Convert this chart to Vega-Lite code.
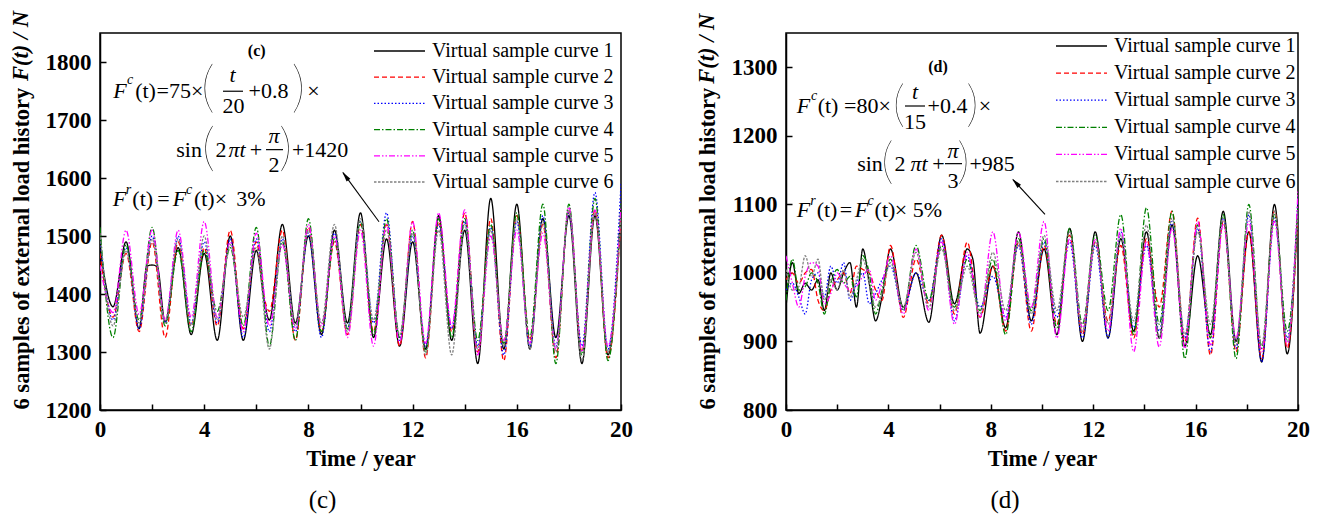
{
"$schema":"https://vega.github.io/schema/vega-lite/v6.json",
"padding":{"left":9,"top":10,"right":5,"bottom":0},
"spacing":61,
"config":{
"view":{"stroke":"black","strokeWidth":1.5},
"font":"Liberation Serif",
"axis":{"grid":false,"tickSize":-6,"tickWidth":1.5,"tickColor":"black","domainColor":"black","domainWidth":1.5,"labelFont":"Liberation Serif","labelFontSize":23,"labelFontWeight":"bold","labelColor":"black","labelFlush":false,"labelOverlap":false,"labelBound":false,"titleFont":"Liberation Serif","titleFontSize":22.5,"titleFontWeight":"bold","titleColor":"black"},
"axisX":{"labelPadding":14,"titlePadding":6},
"axisY":{"labelPadding":15},
"legend":{"symbolType":"stroke","symbolSize":2600,"symbolStrokeWidth":1.3,"labelFont":"Liberation Serif","labelFontSize":20,"labelColor":"black","labelOffset":6,"padding":0,"labelLimit":400},
"text":{"font":"Liberation Serif","fontSize":22,"align":"center","baseline":"middle","color":"black"},
"rule":{"color":"black"}
},
"datasets":{
"c":[
{"t":0,"1":1480,"2":1470,"3":1495,"4":1515,"5":1450,"6":1505},
{"t":0.5,"1":1378,"2":1360,"3":1355,"4":1325,"5":1368,"6":1345},
{"t":1,"1":1490,"2":1470,"3":1480,"4":1485,"5":1510,"6":1475},
{"t":1.5,"1":1340,"2":1335,"3":1340,"4":1355,"5":1365,"6":1350},
{"t":1.8,"1":1448},
{"t":2,"1":1450,"2":1490,"3":1500,"4":1515,"5":1510,"6":1495},
{"t":2.2,"1":1447},
{"t":2.5,"1":1352,"2":1325,"3":1350,"4":1345,"5":1355,"6":1350},
{"t":3,"1":1480,"2":1490,"3":1500,"4":1475,"5":1510,"6":1495},
{"t":3.5,"1":1330,"2":1345,"3":1350,"4":1335,"5":1360,"6":1345},
{"t":4,"1":1470,"2":1480,"3":1490,"4":1475,"5":1525,"6":1500},
{"t":4.5,"1":1320,"2":1345,"3":1350,"4":1370,"5":1360,"6":1355},
{"t":5,"1":1500,"2":1510,"3":1495,"4":1480,"5":1490,"6":1485},
{"t":5.5,"1":1320,"2":1340,"3":1325,"4":1345,"5":1335,"6":1360},
{"t":6,"1":1475,"2":1490,"3":1495,"4":1515,"5":1505,"6":1480},
{"t":6.3,"1":1390,"2":1395},
{"t":6.5,"1":1355,"2":1370,"3":1335,"4":1310,"5":1345,"6":1305},
{"t":7,"1":1520,"2":1510,"3":1495,"4":1490,"5":1485,"6":1500},
{"t":7.5,"1":1350,"2":1320,"3":1335,"4":1320,"5":1340,"6":1345},
{"t":8,"1":1500,"2":1515,"3":1505,"4":1530,"5":1520,"6":1510},
{"t":8.5,"1":1330,"2":1335,"3":1325,"4":1335,"5":1345,"6":1350},
{"t":9,"1":1510,"2":1490,"3":1505,"4":1495,"5":1500,"6":1520},
{"t":9.5,"1":1350,"2":1330,"3":1340,"4":1340,"5":1325,"6":1335},
{"t":10,"1":1540,"2":1520,"3":1525,"4":1525,"5":1510,"6":1530},
{"t":10.5,"1":1325,"2":1335,"3":1350,"4":1330,"5":1310,"6":1355},
{"t":11,"1":1495,"2":1520,"3":1540,"4":1530,"5":1520,"6":1510},
{"t":11.5,"1":1310,"2":1310,"3":1320,"4":1325,"5":1315,"6":1330},
{"t":12,"1":1490,"2":1525,"3":1500,"4":1510,"5":1525,"6":1505},
{"t":12.5,"1":1305,"2":1290,"3":1310,"4":1300,"5":1315,"6":1295},
{"t":13,"1":1535,"2":1525,"3":1520,"4":1530,"5":1540,"6":1510},
{"t":13.5,"1":1320,"2":1335,"3":1340,"4":1325,"5":1345,"6":1295},
{"t":14,"1":1510,"2":1540,"3":1525,"4":1530,"5":1545,"6":1520},
{"t":14.5,"1":1280,"2":1300,"3":1310,"4":1320,"5":1295,"6":1305},
{"t":15,"1":1565,"2":1530,"3":1515,"4":1520,"5":1500,"6":1510},
{"t":15.5,"1":1305,"2":1285,"3":1295,"4":1315,"5":1320,"6":1310},
{"t":16,"1":1555,"2":1535,"3":1525,"4":1540,"5":1510,"6":1530},
{"t":16.5,"1":1305,"2":1320,"3":1310,"4":1325,"5":1315,"6":1305},
{"t":17,"1":1530,"2":1520,"3":1535,"4":1555,"5":1505,"6":1525},
{"t":17.5,"1":1325,"2":1290,"3":1310,"4":1280,"5":1305,"6":1300},
{"t":18,"1":1535,"2":1545,"3":1540,"4":1555,"5":1550,"6":1545},
{"t":18.5,"1":1280,"2":1300,"3":1310,"4":1295,"5":1300,"6":1285},
{"t":19,"1":1535,"2":1545,"3":1575,"4":1565,"5":1545,"6":1540},
{"t":19.5,"1":1295,"2":1290,"3":1305,"4":1285,"5":1310,"6":1300},
{"t":20,"1":1545,"2":1530,"3":1590,"4":1555,"5":1550,"6":1535}
],
"d":[
{"t":0,"1":950,"2":990,"3":975,"4":960,"5":1025,"6":1005},
{"t":0.25,"1":1015,"2":1000,"3":985,"4":1020,"5":985,"6":975},
{"t":0.5,"1":970,"2":985,"3":965,"4":975,"5":950,"6":980},
{"t":0.75,"1":985,"2":1000,"3":940,"4":980,"5":995,"6":1025},
{"t":1,"1":975,"2":1005,"3":990,"4":1000,"5":1015,"6":995},
{"t":1.25,"1":990,"2":960,"3":1000,"4":985,"5":1010,"6":1020},
{"t":1.5,"1":945,"2":945,"3":965,"4":940,"5":955,"6":960},
{"t":1.75,"1":1000,"2":975,"3":1010,"4":985,"5":970,"6":990},
{"t":2,"1":975,"2":990,"3":985,"4":1005,"5":1000,"6":975},
{"t":2.25,"1":1000,"2":1000,"3":1015,"4":985,"5":985,"6":1005},
{"t":2.5,"1":1015,"2":970,"3":960,"4":995,"5":975,"6":965},
{"t":2.75,"1":950,"2":1010,"3":985,"4":965,"5":980,"6":990},
{"t":3,"1":1035,"2":1005,"3":1000,"4":1025,"5":995,"6":1020},
{"t":3.25,"1":985,"2":1000,"3":955,"4":1000,"5":1005,"6":985},
{"t":3.5,"1":930,"2":975,"3":970,"4":940,"5":960,"6":950},
{"t":3.75,"1":965,"2":960,"3":990,"4":975,"5":985,"6":970},
{"t":4.08,"1":1035,"2":1040,"3":1010,"4":1020,"5":1025,"6":1015},
{"t":4.58,"1":950,"2":935,"3":945,"4":945,"5":940,"6":950},
{"t":5.08,"1":1000,"2":1020,"3":1000,"4":1040,"5":1035,"6":1030},
{"t":5.58,"1":928,"2":955,"3":960,"4":960,"5":945,"6":950},
{"t":6.08,"1":1055,"2":1055,"3":1050,"4":1040,"5":1045,"6":1035},
{"t":6.58,"1":955,"2":940,"3":930,"4":950,"5":925,"6":945},
{"t":7.08,"1":1035,"2":1045,"3":1025,"4":1020,"5":1030,"6":1010},
{"t":7.3,"1":1020},
{"t":7.58,"1":912,"2":935,"3":950,"4":945,"5":935,"6":940},
{"t":8.08,"1":1010,"2":1010,"3":995,"4":1020,"5":1060,"6":1030},
{"t":8.58,"1":920,"2":915,"3":935,"4":910,"5":930,"6":945},
{"t":9.08,"1":1060,"2":1045,"3":1040,"4":1050,"5":1060,"6":1045},
{"t":9.58,"1":930,"2":915,"3":925,"4":945,"5":950,"6":940},
{"t":10.08,"1":1035,"2":1040,"3":1045,"4":1050,"5":1075,"6":1055},
{"t":10.58,"1":910,"2":925,"3":935,"4":920,"5":905,"6":945},
{"t":11.08,"1":1065,"2":1055,"3":1045,"4":1065,"5":1050,"6":1060},
{"t":11.58,"1":900,"2":910,"3":905,"4":925,"5":920,"6":915},
{"t":12.08,"1":1060,"2":1045,"3":1040,"4":1055,"5":1050,"6":1045},
{"t":12.58,"1":905,"2":930,"3":905,"4":945,"5":915,"6":925},
{"t":13.08,"1":1050,"2":1040,"3":1060,"4":1085,"5":1065,"6":1055},
{"t":13.58,"1":915,"2":905,"3":920,"4":910,"5":885,"6":930},
{"t":14.08,"1":1060,"2":1050,"3":1040,"4":1095,"5":1045,"6":1070},
{"t":14.58,"1":905,"2":950,"3":915,"4":925,"5":892,"6":905},
{"t":15.08,"1":1070,"2":1090,"3":1075,"4":1090,"5":1065,"6":1080},
{"t":15.58,"1":893,"2":900,"3":905,"4":875,"5":890,"6":910},
{"t":16.08,"1":1025,"2":1080,"3":1065,"4":1070,"5":1075,"6":1060},
{"t":16.58,"1":910,"2":880,"3":885,"4":905,"5":895,"6":925},
{"t":17.08,"1":1090,"2":1075,"3":1080,"4":1085,"5":1070,"6":1080},
{"t":17.58,"1":900,"2":885,"3":890,"4":875,"5":905,"6":895},
{"t":18.08,"1":1060,"2":1060,"3":1085,"4":1100,"5":1075,"6":1090},
{"t":18.58,"1":870,"2":875,"3":870,"4":890,"5":885,"6":895},
{"t":19.08,"1":1100,"2":1090,"3":1080,"4":1085,"5":1075,"6":1090},
{"t":19.58,"1":882,"2":890,"3":905,"4":915,"5":895,"6":900},
{"t":20,"1":1100,"2":1085,"3":1110,"4":1095,"5":1120,"6":1090}
]
},
"resolve":{"scale":{"color":"independent","strokeDash":"independent"},"legend":{"color":"independent","strokeDash":"independent"}},
"hconcat":[
{
"width":521,"height":377,
"data":{"values":[{}]},
"title":{"text":"(c)","orient":"bottom","frame":"group","anchor":"middle","dx":-38,"offset":18,"fontSize":25,"fontWeight":"normal","font":"Liberation Serif","color":"black"},
"layer":[
{"data":{"name":"c"},
"transform":[{"fold":["1","2","3","4","5","6"],"as":["s","v"]},{"filter":"datum.v != null"}],
"mark":{"type":"line","interpolate":"monotone","strokeWidth":1.3,"clip":true},
"encoding":{
"x":{"field":"t","type":"quantitative","scale":{"domain":[0,20],"nice":false,"zero":false},"axis":{"values":[0,2,4,6,8,10,12,14,16,18,20],"labelExpr":"datum.value % 4 === 0 ? datum.label : ''","format":"d","title":"Time / year"}},
"y":{"field":"v","type":"quantitative","scale":{"domain":[1200,1850],"nice":false,"zero":false},"axis":{"values":[1200,1250,1300,1350,1400,1450,1500,1550,1600,1650,1700,1750,1800],"labelExpr":"datum.value % 100 === 0 ? datum.label : ''","format":"d","title":"6 samples of external load history","titleAngle":270,"titleAlign":"left","titleBaseline":"middle","titleX":-79,"titleY":376}},
"color":{"field":"s","type":"nominal","scale":{"domain":["1","2","3","4","5","6"],"range":["#000000","#ff0000","#0000ff","#008000","#ff00ff","#808080"]},"legend":{"orient":"top-right","offset":7,"rowPadding":4.2,"clipHeight":22,"title":null,"labelExpr":"'Virtual sample curve ' + datum.label"}},
"strokeDash":{"field":"s","type":"nominal","scale":{"domain":["1","2","3","4","5","6"],"range":[[1,0],[5,3],[1.5,2],[6,2,1.5,2],[6,2,1.5,2,1.5,2],[2.5,1.5]]},"legend":{"orient":"top-right","offset":7,"rowPadding":4.2,"clipHeight":22,"title":null,"labelExpr":"'Virtual sample curve ' + datum.label"}}
}},
{"mark":{"type":"text","fontStyle":"italic"},"encoding":{"x":{"datum":0.768},"y":{"datum":1750.8},"text":{"value":"F"}}},
{"mark":{"type":"text","fontStyle":"italic","fontSize":14},"encoding":{"x":{"datum":1.152},"y":{"datum":1769.7},"text":{"value":"c"}}},
{"mark":{"type":"text"},"encoding":{"x":{"datum":1.747},"y":{"datum":1750.8},"text":{"value":"(t)"}}},
{"mark":{"type":"text"},"encoding":{"x":{"datum":3.071},"y":{"datum":1750.8},"text":{"value":"=75×"}}},
{"mark":{"type":"text","font":"Lato","fontWeight":200,"fontSize":55},"encoding":{"x":{"datum":4.146},"y":{"datum":1753.3},"text":{"value":"("}}},
{"mark":{"type":"text","fontStyle":"italic"},"encoding":{"x":{"datum":5.086},"y":{"datum":1778.4},"text":{"value":"t"}}},
{"mark":{"type":"rule","strokeWidth":1.2},"encoding":{"x":{"datum":4.722},"x2":{"datum":5.489},"y":{"datum":1749.6}}},
{"mark":{"type":"text"},"encoding":{"x":{"datum":5.125},"y":{"datum":1723.6},"text":{"value":"20"}}},
{"mark":{"type":"text"},"encoding":{"x":{"datum":6.468},"y":{"datum":1750.8},"text":{"value":"+0.8"}}},
{"mark":{"type":"text","font":"Lato","fontWeight":200,"fontSize":55},"encoding":{"x":{"datum":7.62},"y":{"datum":1753.3},"text":{"value":")"}}},
{"mark":{"type":"text"},"encoding":{"x":{"datum":8.196},"y":{"datum":1750.8},"text":{"value":"×"}}},
{"mark":{"type":"text"},"encoding":{"x":{"datum":3.42},"y":{"datum":1648.9},"text":{"value":"sin"}}},
{"mark":{"type":"text","font":"Lato","fontWeight":200,"fontSize":52},"encoding":{"x":{"datum":4.165},"y":{"datum":1650.6},"text":{"value":"("}}},
{"mark":{"type":"text"},"encoding":{"x":{"datum":4.645},"y":{"datum":1648.9},"text":{"value":"2"}}},
{"mark":{"type":"text","fontStyle":"italic"},"encoding":{"x":{"datum":5.259},"y":{"datum":1648.9},"text":{"value":"πt"}}},
{"mark":{"type":"text"},"encoding":{"x":{"datum":5.988},"y":{"datum":1648.9},"text":{"value":"+"}}},
{"mark":{"type":"text","fontStyle":"italic"},"encoding":{"x":{"datum":6.679},"y":{"datum":1673.1},"text":{"value":"π"}}},
{"mark":{"type":"rule","strokeWidth":1.2},"encoding":{"x":{"datum":6.372},"x2":{"datum":7.025},"y":{"datum":1648.9}}},
{"mark":{"type":"text"},"encoding":{"x":{"datum":6.679},"y":{"datum":1623.0},"text":{"value":"2"}}},
{"mark":{"type":"text","font":"Lato","fontWeight":200,"fontSize":52},"encoding":{"x":{"datum":7.121},"y":{"datum":1650.6},"text":{"value":")"}}},
{"mark":{"type":"text"},"encoding":{"x":{"datum":8.45},"y":{"datum":1648.9},"text":{"value":"+1420"}}},
{"mark":{"type":"text","fontStyle":"italic"},"encoding":{"x":{"datum":0.749},"y":{"datum":1564.3},"text":{"value":"F"}}},
{"mark":{"type":"text","fontStyle":"italic","fontSize":14},"encoding":{"x":{"datum":1.094},"y":{"datum":1579.8},"text":{"value":"r"}}},
{"mark":{"type":"text"},"encoding":{"x":{"datum":1.641},"y":{"datum":1564.3},"text":{"value":"(t)"}}},
{"mark":{"type":"text"},"encoding":{"x":{"datum":2.438},"y":{"datum":1564.3},"text":{"value":"="}}},
{"mark":{"type":"text","fontStyle":"italic"},"encoding":{"x":{"datum":3.052},"y":{"datum":1564.3},"text":{"value":"F"}}},
{"mark":{"type":"text","fontStyle":"italic","fontSize":14},"encoding":{"x":{"datum":3.417},"y":{"datum":1579.8},"text":{"value":"c"}}},
{"mark":{"type":"text"},"encoding":{"x":{"datum":4.002},"y":{"datum":1564.3},"text":{"value":"(t)"}}},
{"mark":{"type":"text"},"encoding":{"x":{"datum":4.645},"y":{"datum":1564.3},"text":{"value":"×"}}},
{"mark":{"type":"text"},"encoding":{"x":{"datum":5.797},"y":{"datum":1564.3},"text":{"value":"3%"}}},
{"mark":{"type":"text","fontWeight":"bold","fontSize":16},"encoding":{"x":{"datum":6.015},"y":{"datum":1819.8},"text":{"value":"(c)"}}},
{"mark":{"type":"text","fontStyle":"italic","fontWeight":"bold","fontSize":22.5,"angle":270,"align":"left"},"encoding":{"x":{"datum":-3.033},"y":{"datum":1767.2},"text":{"value":"F(t) / N"}}},
{"mark":{"type":"rule","strokeWidth":1.1},"encoding":{"x":{"datum":10.71},"y":{"datum":1524.6},"x2":{"datum":9.328},"y2":{"datum":1609.2}}},
{"mark":{"type":"point","shape":"M0,-1L0.45,1L-0.45,1Z","filled":true,"size":110,"angle":323.7,"color":"black","opacity":1},"encoding":{"x":{"datum":9.42},"y":{"datum":1603.7}}}
]
},
{
"width":512,"height":377,
"data":{"values":[{}]},
"title":{"text":"(d)","orient":"bottom","frame":"group","anchor":"middle","dx":-37,"offset":18,"fontSize":25,"fontWeight":"normal","font":"Liberation Serif","color":"black"},
"layer":[
{"data":{"name":"d"},
"transform":[{"fold":["1","2","3","4","5","6"],"as":["s","v"]},{"filter":"datum.v != null"}],
"mark":{"type":"line","interpolate":"monotone","strokeWidth":1.3,"clip":true},
"encoding":{
"x":{"field":"t","type":"quantitative","scale":{"domain":[0,20],"nice":false,"zero":false},"axis":{"values":[0,2,4,6,8,10,12,14,16,18,20],"labelExpr":"datum.value % 4 === 0 ? datum.label : ''","format":"d","title":"Time / year"}},
"y":{"field":"v","type":"quantitative","scale":{"domain":[800,1350],"nice":false,"zero":false},"axis":{"values":[800,850,900,950,1000,1050,1100,1150,1200,1250,1300],"labelExpr":"datum.value % 100 === 0 ? datum.label : ''","format":"d","title":"6 samples of external load history","titleAngle":270,"titleAlign":"left","titleBaseline":"middle","titleX":-79,"titleY":376}},
"color":{"field":"s","type":"nominal","scale":{"domain":["1","2","3","4","5","6"],"range":["#000000","#ff0000","#0000ff","#008000","#ff00ff","#808080"]},"legend":{"orient":"top-right","offset":2,"rowPadding":5.1,"clipHeight":22,"title":null,"labelExpr":"'Virtual sample curve ' + datum.label"}},
"strokeDash":{"field":"s","type":"nominal","scale":{"domain":["1","2","3","4","5","6"],"range":[[1,0],[5,3],[1.5,2],[6,2,1.5,2],[6,2,1.5,2,1.5,2],[2.5,1.5]]},"legend":{"orient":"top-right","offset":2,"rowPadding":5.1,"clipHeight":22,"title":null,"labelExpr":"'Virtual sample curve ' + datum.label"}}
}},
{"mark":{"type":"text","fontStyle":"italic"},"encoding":{"x":{"datum":0.684},"y":{"datum":1244.2},"text":{"value":"F"}}},
{"mark":{"type":"text","fontStyle":"italic","fontSize":14},"encoding":{"x":{"datum":1.094},"y":{"datum":1258.0},"text":{"value":"c"}}},
{"mark":{"type":"text"},"encoding":{"x":{"datum":1.641},"y":{"datum":1244.2},"text":{"value":"(t)"}}},
{"mark":{"type":"text"},"encoding":{"x":{"datum":3.184},"y":{"datum":1244.2},"text":{"value":"=80×"}}},
{"mark":{"type":"text","font":"Lato","fontWeight":200,"fontSize":49},"encoding":{"x":{"datum":4.414},"y":{"datum":1244.2},"text":{"value":"("}}},
{"mark":{"type":"text","fontStyle":"italic"},"encoding":{"x":{"datum":5.039},"y":{"datum":1263.8},"text":{"value":"t"}}},
{"mark":{"type":"rule","strokeWidth":1.2},"encoding":{"x":{"datum":4.648},"x2":{"datum":5.43},"y":{"datum":1243.5}}},
{"mark":{"type":"text"},"encoding":{"x":{"datum":5.039},"y":{"datum":1220.3},"text":{"value":"15"}}},
{"mark":{"type":"text"},"encoding":{"x":{"datum":6.309},"y":{"datum":1244.2},"text":{"value":"+0.4"}}},
{"mark":{"type":"text","font":"Lato","fontWeight":200,"fontSize":49},"encoding":{"x":{"datum":7.285},"y":{"datum":1244.2},"text":{"value":")"}}},
{"mark":{"type":"text"},"encoding":{"x":{"datum":7.773},"y":{"datum":1244.2},"text":{"value":"×"}}},
{"mark":{"type":"text"},"encoding":{"x":{"datum":3.281},"y":{"datum":1159.4},"text":{"value":"sin"}}},
{"mark":{"type":"text","font":"Lato","fontWeight":200,"fontSize":49},"encoding":{"x":{"datum":3.965},"y":{"datum":1160.9},"text":{"value":"("}}},
{"mark":{"type":"text"},"encoding":{"x":{"datum":4.453},"y":{"datum":1159.4},"text":{"value":"2"}}},
{"mark":{"type":"text","fontStyle":"italic"},"encoding":{"x":{"datum":5.195},"y":{"datum":1159.4},"text":{"value":"πt"}}},
{"mark":{"type":"text"},"encoding":{"x":{"datum":5.957},"y":{"datum":1159.4},"text":{"value":"+"}}},
{"mark":{"type":"text","fontStyle":"italic"},"encoding":{"x":{"datum":6.523},"y":{"datum":1178.3},"text":{"value":"π"}}},
{"mark":{"type":"rule","strokeWidth":1.2},"encoding":{"x":{"datum":6.211},"x2":{"datum":6.875},"y":{"datum":1159.4}}},
{"mark":{"type":"text"},"encoding":{"x":{"datum":6.523},"y":{"datum":1134.8},"text":{"value":"3"}}},
{"mark":{"type":"text","font":"Lato","fontWeight":200,"fontSize":49},"encoding":{"x":{"datum":6.934},"y":{"datum":1160.9},"text":{"value":")"}}},
{"mark":{"type":"text"},"encoding":{"x":{"datum":8.05},"y":{"datum":1159.4},"text":{"value":"+985"}}},
{"mark":{"type":"text","fontStyle":"italic"},"encoding":{"x":{"datum":0.684},"y":{"datum":1092.0},"text":{"value":"F"}}},
{"mark":{"type":"text","fontStyle":"italic","fontSize":14},"encoding":{"x":{"datum":1.055},"y":{"datum":1104.4},"text":{"value":"r"}}},
{"mark":{"type":"text"},"encoding":{"x":{"datum":1.602},"y":{"datum":1092.0},"text":{"value":"(t)"}}},
{"mark":{"type":"text"},"encoding":{"x":{"datum":2.344},"y":{"datum":1092.0},"text":{"value":"="}}},
{"mark":{"type":"text","fontStyle":"italic"},"encoding":{"x":{"datum":2.949},"y":{"datum":1092.0},"text":{"value":"F"}}},
{"mark":{"type":"text","fontStyle":"italic","fontSize":14},"encoding":{"x":{"datum":3.301},"y":{"datum":1104.4},"text":{"value":"c"}}},
{"mark":{"type":"text"},"encoding":{"x":{"datum":3.867},"y":{"datum":1092.0},"text":{"value":"(t)"}}},
{"mark":{"type":"text"},"encoding":{"x":{"datum":4.492},"y":{"datum":1092.0},"text":{"value":"×"}}},
{"mark":{"type":"text"},"encoding":{"x":{"datum":5.527},"y":{"datum":1092.0},"text":{"value":"5%"}}},
{"mark":{"type":"text","fontWeight":"bold","fontSize":16},"encoding":{"x":{"datum":5.938},"y":{"datum":1300.0},"text":{"value":"(d)"}}},
{"mark":{"type":"text","fontStyle":"italic","fontWeight":"bold","fontSize":22.5,"angle":270,"align":"left"},"encoding":{"x":{"datum":-3.086},"y":{"datum":1276.1},"text":{"value":"F(t) / N"}}},
{"mark":{"type":"rule","strokeWidth":1.1},"encoding":{"x":{"datum":10.117},"y":{"datum":1085.5},"x2":{"datum":8.867},"y2":{"datum":1136.2}}},
{"mark":{"type":"point","shape":"M0,-1L0.45,1L-0.45,1Z","filled":true,"size":110,"angle":317.6,"color":"black","opacity":1},"encoding":{"x":{"datum":8.973},"y":{"datum":1131.9}}}
]
}
]
}
